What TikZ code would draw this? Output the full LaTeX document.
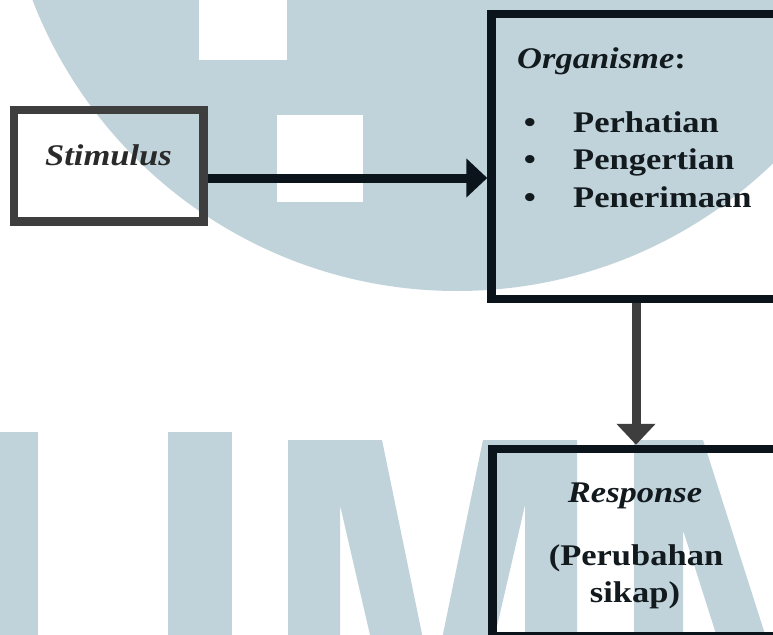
\documentclass[tikz,border=0pt]{standalone}
\usepackage{fontspec}
\setmainfont{Liberation Serif}[FakeStretch=1.15]
\usetikzlibrary{arrows.meta}

\definecolor{wmblue}{RGB}{192,211,218}
\definecolor{linegray}{RGB}{62,62,62}
\definecolor{linedark}{RGB}{10,20,26}
\definecolor{txtdark}{RGB}{18,26,30}
\definecolor{txtgray}{RGB}{42,42,42}

\begin{document}
\begin{tikzpicture}[x=1pt, y=-1pt,
	box/.style={draw, rectangle, line width=8.5pt, inner sep=0pt},
	txt/.style={font=\fontsize{30}{36}\selectfont\bfseries, text=txtdark, inner sep=0pt},
	flow/.style={line width=9pt, -{Triangle[length=21pt, width=38pt]}}]
			\useasboundingbox (0,0) rectangle (773,634);
			\clip (0,0) rectangle (773,634);
				% watermark
				\begin{scope}
				\fill[white] (0,0) rectangle (773,634);
				\fill[wmblue] (457,-164) circle (455pt);
				\fill[white] (199,-5) rectangle (287,60);
				\fill[white] (277,115) rectangle (363,202);
				
				\fill[wmblue] (-26,432) rectangle (38,640);
				\fill[wmblue] (168,432) rectangle (232,640);
				\fill[wmblue, even odd rule] (288,440) -- (382,440) -- (432.5,685) -- (483,440) -- (577,440) -- (577,700) -- (288,700) -- cycle
					(340,505) -- (340,700) -- (385,700) -- cycle
					(525,505) -- (525,700) -- (480,700) -- cycle;
				\fill[wmblue, even odd rule] (634,440) -- (703,440) -- (786,700) -- (634,700) -- cycle
					(683,530) -- (683,700) -- (737,700) -- cycle;
				\end{scope}
				
				\node[box, draw=linegray, minimum width=189.5pt, minimum height=111.5pt] (stim) at (108.75,165.75) {};
				\node[box, draw=linedark, minimum width=308.5pt, minimum height=285pt] (org) at (645.75,156.5) {};
				\node[box, draw=linedark, minimum width=307.5pt, minimum height=187pt] (resp) at (646.25,542.5) {};
				
				\coordinate (hy) at (0,178);
				\coordinate (vx) at (636,0);
				\draw[flow, linedark] (stim.east |- hy) -- (org.west |- hy);
				\draw[flow, linegray] (org.south -| vx) -- (resp.north -| vx);
				
				\node[txt, text=txtgray, anchor=base] (stimtxt) at (108.5,165) {\itshape Stimulus};
				\node[txt, anchor=base west] (orgtitle) at (517,68) {\textit{Organisme}:};
				\foreach \w [count=\i] in {Perhatian,Pengertian,Penerimaan} {
					\node[txt, anchor=base] (bul\i) at (530,94.5+37.5*\i) {\textbullet};
					\node[txt, anchor=base west] (item\i) at (573,94.5+37.5*\i) {\w};
				}
				\node[txt, anchor=base] (resptitle) at (635,502) {\itshape Response};
				\node[txt, anchor=base] (resp1) at (636,565) {(Perubahan};
				\node[txt, anchor=base] (resp2) at (635,602) {sikap)};
			\end{tikzpicture}
\end{document}
